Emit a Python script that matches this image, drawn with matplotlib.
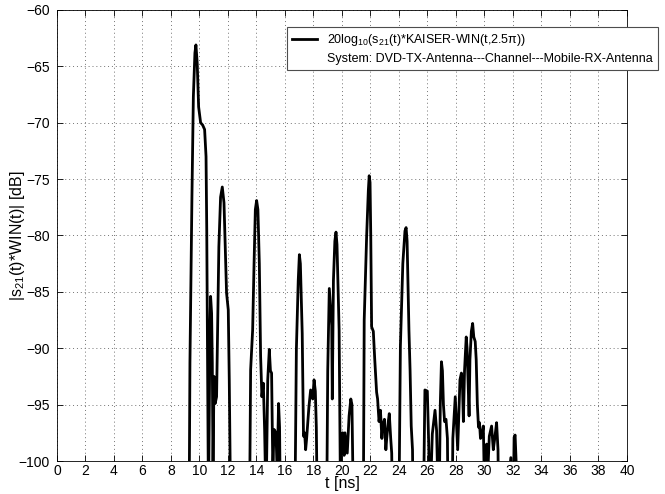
import matplotlib
matplotlib.use("Agg")
import matplotlib.pyplot as plt
from matplotlib.lines import Line2D

plt.rcParams['font.family'] = ['Liberation Sans', 'DejaVu Sans']
plt.rcParams['mathtext.fontset'] = 'custom'
plt.rcParams['mathtext.rm'] = 'Liberation Sans'
plt.rcParams['mathtext.it'] = 'Liberation Sans:italic'

# time samples [ns]
t_ns = [9.20, 9.29, 9.33, 9.47, 9.57, 9.68, 9.75, 9.84, 9.94, 10.08, 10.22, 10.36, 10.46, 10.51,
        10.57, 10.63, 10.70, 10.74, 10.78, 10.85, 10.90, 10.95, 11.02, 11.10, 11.20, 11.27,
        11.36, 11.48, 11.60, 11.72, 11.81, 11.90, 12.02, 12.09, 12.20, 12.25, 13.45, 13.54,
        13.59, 13.73, 13.83, 13.92, 14.01, 14.10, 14.20, 14.29, 14.38, 14.48, 14.57, 14.67,
        14.79, 14.90, 14.98, 15.06, 15.15, 15.23, 15.37, 15.45, 15.55, 15.62, 15.72, 16.50,
        16.70, 16.80, 16.93, 17.01, 17.08, 17.21, 17.30, 17.38, 17.45, 17.52, 17.68, 17.80,
        17.95, 18.04, 18.13, 18.20, 18.30, 18.85, 18.93, 19.00, 19.11, 19.20, 19.28, 19.32,
        19.40, 19.50, 19.58, 19.65, 19.80, 19.90, 19.96, 20.05, 20.15, 20.21, 20.37, 20.50,
        20.62, 20.70, 20.82, 21.40, 21.50, 21.56, 21.73, 21.85, 21.91, 21.97, 22.02, 22.08,
        22.20, 22.30, 22.43, 22.50, 22.60, 22.70, 22.80, 22.86, 22.98, 23.08, 23.14, 23.25,
        23.32, 23.42, 23.49, 23.58, 23.95, 24.00, 24.10, 24.27, 24.42, 24.50, 24.57, 24.70,
        24.78, 24.86, 24.95, 25.02, 25.65, 25.72, 25.82, 25.99, 26.08, 26.18, 26.34, 26.53,
        26.64, 26.76, 26.82, 26.90, 26.98, 27.05, 27.12, 27.20, 27.30, 27.40, 27.47, 27.72,
        27.78, 27.95, 28.05, 28.12, 28.20, 28.28, 28.38, 28.45, 28.52, 28.60, 28.72, 28.78,
        28.85, 28.92, 28.98, 29.08, 29.17, 29.25, 29.35, 29.42, 29.50, 29.58, 29.65, 29.72,
        29.80, 29.92, 30.02, 30.15, 30.25, 30.34, 30.50, 30.62, 30.74, 30.85, 30.95, 31.03,
        31.75, 31.85, 31.95, 32.02, 32.08, 32.15, 32.22, 32.30, 32.35]

# magnitude [dB]
s21_db = [-112, -100.5, -91.3, -76.6, -67.7, -63.8, -63.1, -64.7, -68.6, -70.0, -70.2, -70.6, -73.0, -79.5,
          -91.3, -104, -94, -87.8, -85.4, -86.9, -91.3, -101, -92.5, -94.9, -94.3, -88.4,
          -81.0, -76.6, -75.7, -77.1, -81.0, -85.1, -86.6, -92.8, -106, -112, -112, -100,
          -91.9, -88.4, -82.5, -77.7, -76.9, -77.7, -82.5, -90.7, -94.3, -93.1, -97.2, -104,
          -92.8, -90.1, -92.0, -92.2, -101, -97.2, -97.5, -101, -94.9, -97, -110, -112,
          -104, -90.1, -84, -81.7, -82.5, -88.7, -97.8, -97.5, -99.0, -98, -95.2, -93.7,
          -94.5, -92.8, -93.8, -97, -108, -112, -104, -92, -84.7, -86.5, -88, -94.5,
          -84, -80.5, -79.7, -80.8, -88.4, -104, -97.7, -97.5, -99.5, -97.5, -99.3, -96,
          -94.5, -95, -106, -112, -104, -87.5, -80.1, -76, -74.7, -75.3, -80, -88.1,
          -88.5, -91, -93.9, -94.5, -96.5, -95.5, -98, -96.9, -96.3, -99, -98, -96.5,
          -95.8, -98, -99.3, -108, -112, -104, -89.8, -82.5, -79.6, -79.3, -80.5, -88.4,
          -92, -96.9, -99, -108, -112, -104, -93.7, -93.8, -98.2, -104, -97.6, -95.5,
          -97.3, -104, -104, -95, -91.2, -92, -95, -96.5, -96.3, -98, -108, -106,
          -98, -94.3, -97, -99, -96, -92.8, -92.2, -93, -96.5, -92, -89.0, -90,
          -93, -96, -91, -88.5, -87.8, -89, -89.4, -91, -95, -97, -96.6, -98,
          -97.8, -96.9, -104, -98.5, -100.5, -97.8, -96.9, -99, -97.8, -96.6, -99, -110,
          -101, -99.7, -108, -104, -97.9, -97.7, -100, -110, -115]

x_ticks = list(range(0, 41, 2))
y_ticks = list(range(-100, -59, 5))

fig = plt.figure(figsize=(6.65, 4.94), dpi=100)
ax = fig.add_axes([0.0857, 0.0668, 0.8571, 0.9130])

ax.plot(t_ns, s21_db, color='black', lw=2.0)

ax.set_xlim(0, 40)
ax.set_ylim(-100, -60)
ax.set_xticks(x_ticks)
ax.set_yticks(y_ticks)
ax.tick_params(direction='in', length=4, labelsize=10, top=True, right=True, width=0.6)
ax.tick_params(axis='x', pad=2)
ax.tick_params(axis='y', pad=5)
for sp in ax.spines.values():
    sp.set_linewidth(0.6)
ax.grid(True, linestyle=(0, (1, 3)), color='0.45', linewidth=0.7)

ax.set_xlabel('t [ns]', fontsize=11.5)
ax.xaxis.set_label_coords(0.5, -0.034)
ax.set_ylabel(r'|s$_{\mathrm{21}}$(t)*WIN(t)| [dB]', fontsize=11.5)
ax.yaxis.set_label_coords(-0.052, 0.5)

h1 = Line2D([], [], color='black', lw=2.0)
h2 = Line2D([], [], color='none', lw=0)
leg = fig.legend([h1, h2],
                 [r'20log$_{\mathrm{10}}$(s$_{\mathrm{21}}$(t)*KAISER-WIN(t,2.5π))',
                  'System: DVD-TX-Antenna---Channel---Mobile-RX-Antenna'],
                 loc='upper left', bbox_to_anchor=(0.4316, 0.945),
                 fontsize=9, frameon=True, fancybox=False, framealpha=1,
                 edgecolor='0.3', handlelength=2.0, handletextpad=0.8,
                 borderpad=0.4, labelspacing=0.35, borderaxespad=0)
leg.get_frame().set_linewidth(0.8)

fig.savefig('out.png', dpi=100)
